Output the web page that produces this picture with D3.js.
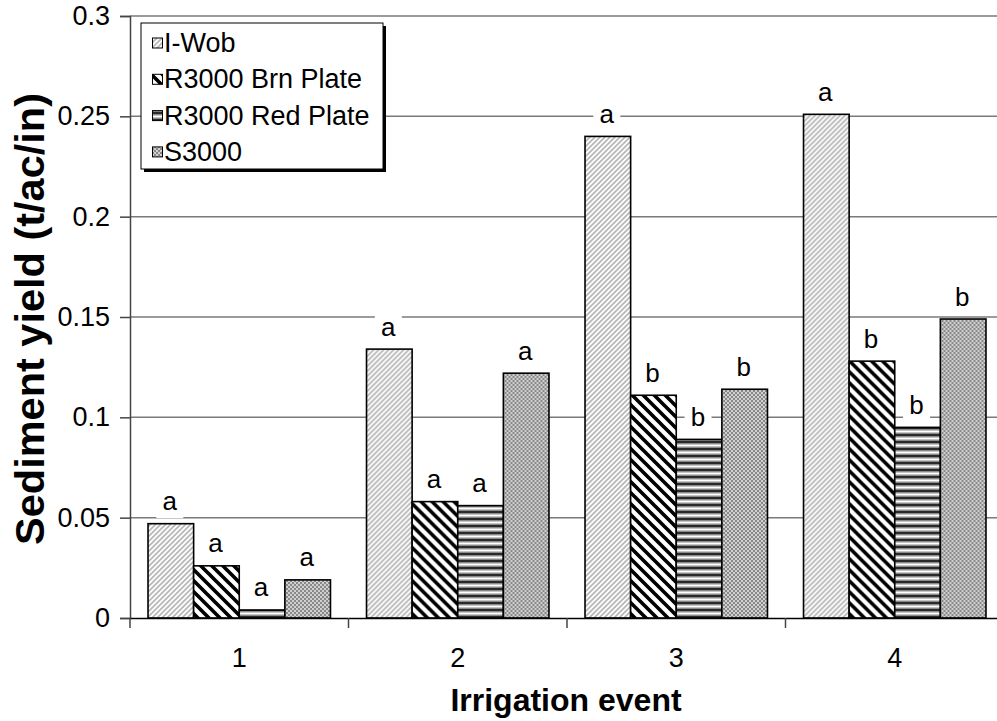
<!DOCTYPE html>
<html><head><meta charset="utf-8">
<script src="https://cdn.jsdelivr.net/npm/d3@7"></script>
<style>body{margin:0;background:#fff;overflow:hidden} svg{display:block}</style>
</head><body>
<svg id="chart" width="997" height="721"></svg>
<script>
const categories = ["1", "2", "3", "4"];
const seriesNames = ["I-Wob", "R3000 Brn Plate", "R3000 Red Plate", "S3000"];
const iWob     = [0.047, 0.134, 0.240, 0.251];
const r3000Brn = [0.026, 0.058, 0.111, 0.128];
const r3000Red = [0.004, 0.056, 0.089, 0.095];
const s3000    = [0.019, 0.122, 0.114, 0.149];
const lettersIWob = ["a", "a", "a", "a"];
const lettersBrn  = ["a", "a", "b", "b"];
const lettersRed  = ["a", "a", "b", "b"];
const lettersS    = ["a", "a", "b", "b"];
const yTicks = [0, 0.05, 0.1, 0.15, 0.2, 0.25, 0.3];
const yTickLabels = ["0", "0.05", "0.1", "0.15", "0.2", "0.25", "0.3"];
const xTitle = "Irrigation event";
const yTitle = "Sediment yield (t/ac/in)";

const seriesValues = [iWob, r3000Brn, r3000Red, s3000];
const seriesLetters = [lettersIWob, lettersBrn, lettersRed, lettersS];
const patternIds = ["pWob", "pBrn", "pRed", "pS"];

(function () {
const svg = d3.select("#chart");
const W = 997;
const pLeft = 130, pRight = 1004, pTop = 16, pBottom = 618;
const FONT = "Liberation Sans, Arial, sans-serif";

const x0 = d3.scaleBand().domain(categories).range([pLeft, pRight]).padding(0);
const x1 = d3.scaleBand().domain(seriesNames).range([0, x0.bandwidth()]).paddingInner(0).paddingOuter(0.395);
const y = d3.scaleLinear().domain([0, 0.3]).range([pBottom, pTop]);

// patterns
const defs = svg.append("defs");
const p1 = defs.append("pattern").attr("id", "pWob").attr("patternUnits", "userSpaceOnUse")
  .attr("width", 5).attr("height", 5);
p1.append("rect").attr("width", 5).attr("height", 5).attr("fill", "#ffffff");
p1.append("path").attr("d", "M-1,1 L1,-1 M0,5 L5,0 M4,6 L6,4").attr("stroke", "#b8b8b8").attr("stroke-width", 1.8);
const p2 = defs.append("pattern").attr("id", "pBrn").attr("patternUnits", "userSpaceOnUse")
  .attr("width", 11).attr("height", 11);
p2.append("rect").attr("width", 11).attr("height", 11).attr("fill", "#ffffff");
p2.append("path").attr("d", "M-2,-2 L13,13 M-2,9 L2,13 M9,-2 L13,2").attr("stroke", "#000").attr("stroke-width", 3.6);
const p3 = defs.append("pattern").attr("id", "pRed").attr("patternUnits", "userSpaceOnUse")
  .attr("width", 7).attr("height", 7);
p3.append("rect").attr("width", 7).attr("height", 7).attr("fill", "#ffffff");
p3.append("rect").attr("y", 0).attr("width", 7).attr("height", 2).attr("fill", "#2a2a2a");
p3.append("rect").attr("y", 2).attr("width", 7).attr("height", 1.5).attr("fill", "#8a8a8a");
p3.append("rect").attr("y", 5.5).attr("width", 7).attr("height", 1.5).attr("fill", "#8a8a8a");
const p4 = defs.append("pattern").attr("id", "pS").attr("patternUnits", "userSpaceOnUse")
  .attr("width", 4).attr("height", 4);
p4.append("rect").attr("width", 4).attr("height", 4).attr("fill", "#d0d0d0");
p4.append("rect").attr("x", 0).attr("y", 0).attr("width", 2).attr("height", 2).attr("fill", "#888");
p4.append("rect").attr("x", 2).attr("y", 2).attr("width", 2).attr("height", 2).attr("fill", "#888");

// gridlines
svg.append("g").selectAll("line").data(yTicks.filter(d => d > 0)).join("line")
  .attr("x1", pLeft).attr("x2", W).attr("y1", d => y(d)).attr("y2", d => y(d))
  .attr("stroke", "#7a7a7a").attr("stroke-width", 1.5);

// y axis
const yAxis = d3.axisLeft(y).tickValues(yTicks).tickSize(10).tickPadding(10)
  .tickFormat((d, i) => yTickLabels[i]);
const gy = svg.append("g").attr("transform", `translate(${pLeft},0)`).call(yAxis);
gy.select(".domain").attr("stroke", "#444").attr("stroke-width", 1.5);
gy.selectAll(".tick line").attr("stroke", "#444").attr("stroke-width", 1.5);
gy.selectAll(".tick text").attr("font-family", FONT).attr("font-size", 27).attr("fill", "#000");

// bars
const groups = svg.append("g").selectAll("g").data(categories).join("g")
  .attr("transform", d => `translate(${x0(d)},0)`);
groups.selectAll("rect").data((c, ci) => seriesNames.map((s, si) => ({s, si, v: seriesValues[si][ci]})))
  .join("rect")
  .attr("x", d => x1(d.s)).attr("width", x1.bandwidth())
  .attr("y", d => y(d.v)).attr("height", d => y(0) - y(d.v))
  .attr("fill", d => `url(#${patternIds[d.si]})`)
  .attr("stroke", "#000").attr("stroke-width", 1.6);

// x axis
const xAxis = d3.axisBottom(x0).tickSize(0).tickPadding(30);
const gx = svg.append("g").attr("transform", `translate(0,${pBottom})`).call(xAxis);
gx.select(".domain").attr("stroke", "#000").attr("stroke-width", 1.6);
gx.selectAll(".tick text").attr("font-family", FONT).attr("font-size", 27).attr("fill", "#000");
const bounds = categories.map(c => x0(c)).concat([x0(categories[categories.length - 1]) + x0.bandwidth()]);
svg.append("g").selectAll("line").data(bounds).join("line")
  .attr("x1", d => d).attr("x2", d => d)
  .attr("y1", pBottom).attr("y2", pBottom + 10)
  .attr("stroke", "#444").attr("stroke-width", 1.5);

// letter labels
const labG = svg.append("g");
categories.forEach((c, ci) => {
  seriesNames.forEach((s, si) => {
    const cx = x0(c) + x1(s) + x1.bandwidth() / 2 - 1;
    const by = y(seriesValues[si][ci]) - 13.5;
    labG.append("rect").attr("x", cx - 13.5).attr("y", by - 20).attr("width", 27).attr("height", 28).attr("fill", "#fff");
    labG.append("text").attr("x", cx).attr("y", by).attr("text-anchor", "middle")
      .attr("font-family", FONT).attr("font-size", 26).text(seriesLetters[si][ci]);
  });
});

// axis titles
svg.append("text").attr("x", (pLeft + pRight) / 2 - 1).attr("y", 711).attr("text-anchor", "middle")
  .attr("font-family", FONT).attr("font-size", 32).attr("font-weight", "bold").text(xTitle);
svg.append("text").attr("transform", `translate(44,319) rotate(-90)`).attr("text-anchor", "middle")
  .attr("font-family", FONT).attr("font-size", 41.5).attr("font-weight", "bold").text(yTitle);

// legend
const lg = svg.append("g");
lg.append("rect").attr("x", 144).attr("y", 26).attr("width", 242).attr("height", 146).attr("fill", "#000");
lg.append("rect").attr("x", 141).attr("y", 23).attr("width", 242).attr("height", 146).attr("fill", "#fff")
  .attr("stroke", "#000").attr("stroke-width", 1);
seriesNames.forEach((s, i) => {
  const cy = 43 + i * 36.3;
  lg.append("rect").attr("x", 152.5).attr("y", cy - 5).attr("width", 10).attr("height", 10)
    .attr("fill", `url(#${patternIds[i]})`).attr("stroke", "#000").attr("stroke-width", 1);
  lg.append("text").attr("x", 164).attr("y", cy + 9).attr("font-family", FONT).attr("font-size", 27).text(s);
});
})();
</script>
</body></html>
